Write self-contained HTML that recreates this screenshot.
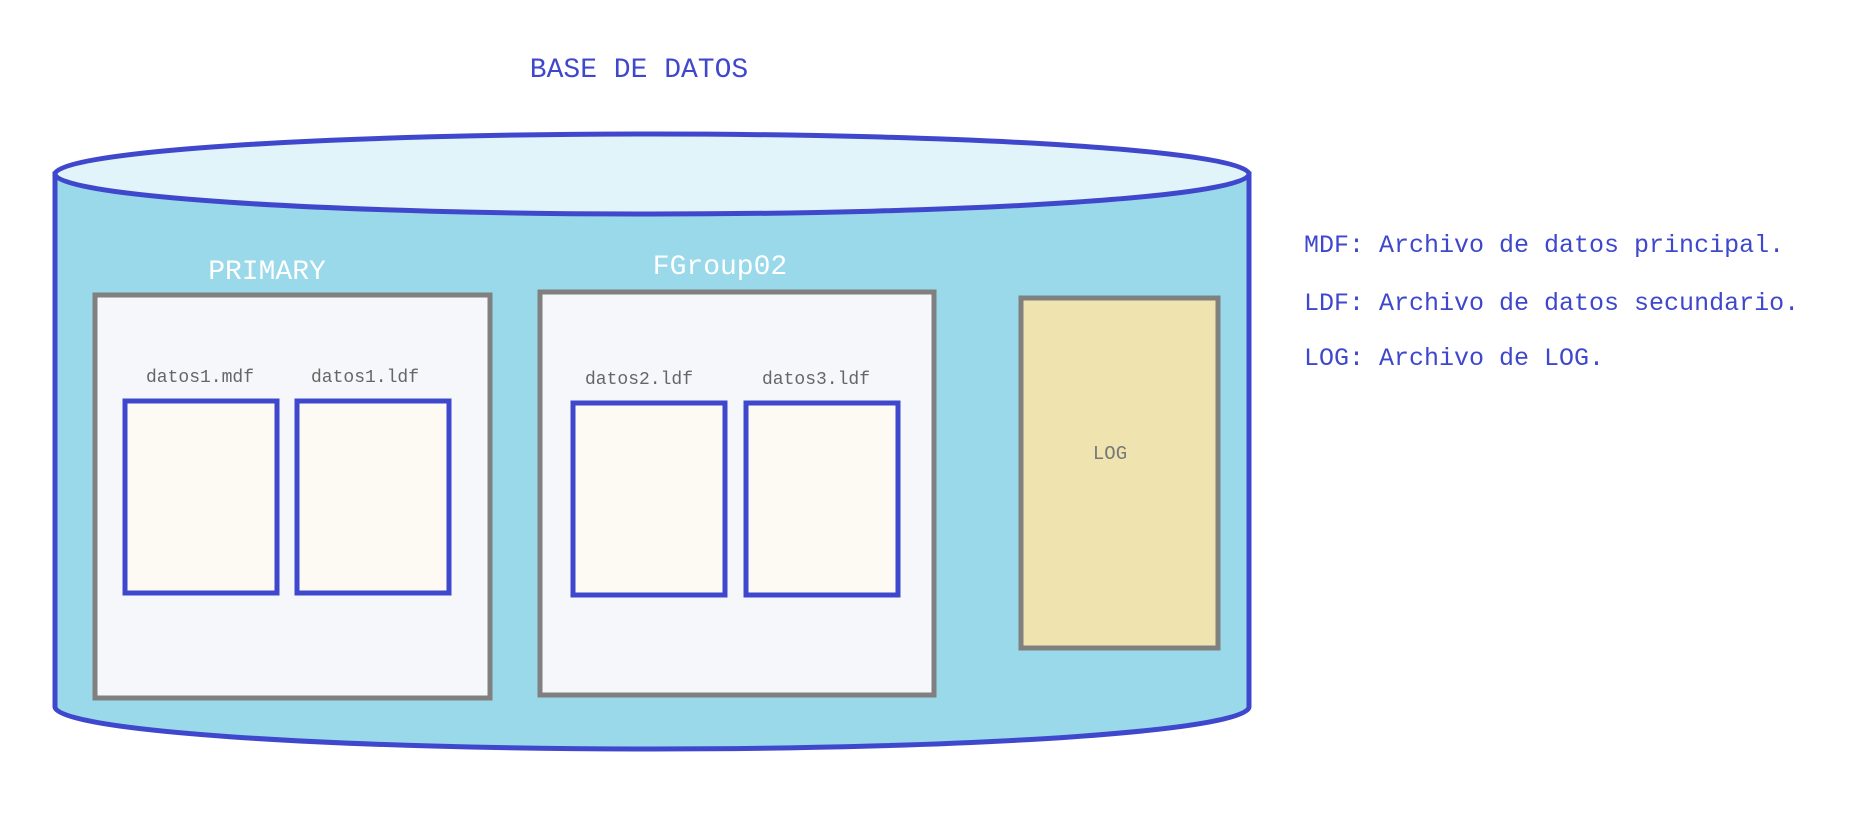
<!DOCTYPE html>
<html><head><meta charset="utf-8"><style>
html,body{margin:0;padding:0;background:#fff;}
svg text{font-family:"Liberation Mono",monospace;}
</style></head><body>
<svg width="1856" height="822" viewBox="0 0 1856 822" xmlns="http://www.w3.org/2000/svg">
<text x="639" y="77" text-anchor="middle" font-size="28" fill="#3f48cc">BASE DE DATOS</text>
<path d="M55 174 L55 707 A597 42 0 0 0 1249 707 L1249 174 Z" fill="#9ad9e9" stroke="#3f48cc" stroke-width="5"/>
<ellipse cx="652" cy="174" rx="597" ry="40" fill="#e1f4fa" stroke="#3f48cc" stroke-width="5"/>
<text x="267" y="279" text-anchor="middle" font-size="28" fill="#fff">PRIMARY</text>
<rect x="95" y="295" width="395" height="403" fill="#f6f7fb" stroke="#808080" stroke-width="5"/>
<text x="720" y="274" text-anchor="middle" font-size="28" fill="#fff">FGroup02</text>
<rect x="540" y="292" width="394" height="403" fill="#f6f7fb" stroke="#808080" stroke-width="5"/>
<rect x="1021" y="298" width="197" height="350" fill="#efe3b0" stroke="#808080" stroke-width="5"/>
<text x="1110" y="459" text-anchor="middle" font-size="19" fill="#777" font-family="Liberation Sans, sans-serif">LOG</text>
<text x="200" y="382" text-anchor="middle" font-size="18" fill="#666">datos1.mdf</text>
<text x="365" y="382" text-anchor="middle" font-size="18" fill="#666">datos1.ldf</text>
<text x="639" y="384" text-anchor="middle" font-size="18" fill="#666">datos2.ldf</text>
<text x="816" y="384" text-anchor="middle" font-size="18" fill="#666">datos3.ldf</text>
<rect x="125" y="401" width="152" height="192" fill="#fdfaf3" stroke="#3f48cc" stroke-width="5"/>
<rect x="297" y="401" width="152" height="192" fill="#fdfaf3" stroke="#3f48cc" stroke-width="5"/>
<rect x="573" y="403" width="152" height="192" fill="#fdfaf3" stroke="#3f48cc" stroke-width="5"/>
<rect x="746" y="403" width="152" height="192" fill="#fdfaf3" stroke="#3f48cc" stroke-width="5"/>
<text x="1304" y="252" font-size="25" fill="#3f48cc">MDF: Archivo de datos principal.</text>
<text x="1304" y="310" font-size="25" fill="#3f48cc">LDF: Archivo de datos secundario.</text>
<text x="1304" y="365" font-size="25" fill="#3f48cc">LOG: Archivo de LOG.</text>
</svg>
</body></html>
